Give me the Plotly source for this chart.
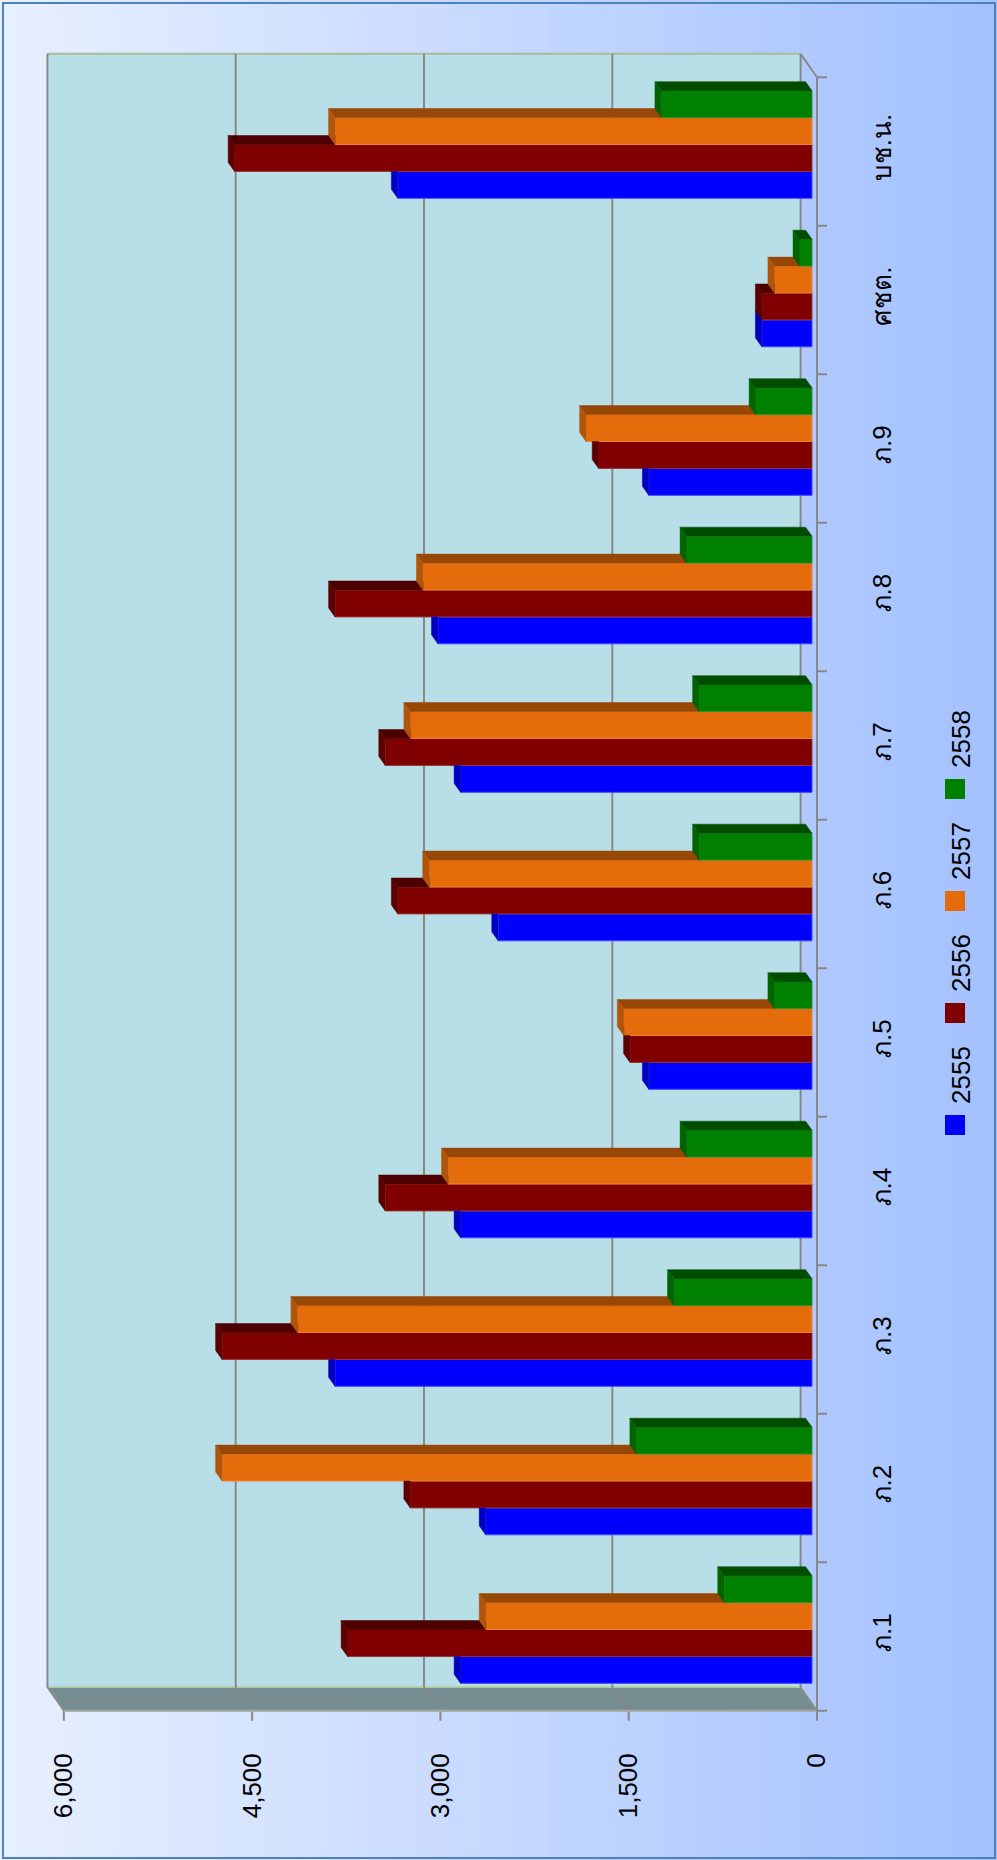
import plotly.graph_objects as go

# ---------------- data ----------------
categories = ["ภ.1", "ภ.2", "ภ.3", "ภ.4", "ภ.5", "ภ.6", "ภ.7", "ภ.8", "ภ.9", "ศชต.", "บช.น."]
series_names = ["2555", "2556", "2557", "2558"]
v2555 = [2800, 2600, 3800, 2800, 1300, 2500, 2800, 2980, 1300, 400, 3300]
v2556 = [3700, 3200, 4700, 3400, 1450, 3300, 3400, 3800, 1700, 400, 4600]
v2557 = [2600, 4700, 4100, 2900, 1500, 3050, 3200, 3100, 1800, 300, 3800]
v2558 = [700, 1400, 1100, 1000, 300, 900, 900, 1000, 450, 100, 1200]
value_ticks = [0, 1500, 3000, 4500, 6000]
value_tick_labels = ["0", "1,500", "3,000", "4,500", "6,000"]

series_values = [v2555, v2556, v2557, v2558]

# ---------------- style ----------------
front_colors = ["#0000FF", "#800000", "#E46C0A", "#008000"]
top_colors = ["#00007A", "#4D0000", "#974706", "#004D00"]
side_colors = ["#0000C0", "#5C0000", "#B0550A", "#006400"]
edge_colors = ["#4545FF", "#9A3333", "#EC8434", "#2A922A"]

FONT = 'Tahoma, Verdana, "Liberation Sans", "Noto Sans", "DejaVu Sans", sans-serif'
W, H = 997, 1860
# plot area in pixels
PL, PR, PT, PB = 40, 830, 45, 1725
# bar-plane mapping (pixels)
X0, PXV = 812.0, 0.12553        # screen x of value 0, pixels per unit
Y0, PXC = 1629.5, 148.5         # screen y of first category, pixels per category
GROUP_W = 0.7246                # fraction of slot used by the 4 bars
BW = GROUP_W / 4
DXV = 6.4 / PXV                 # bar depth (value units)
DYC = 9.0 / PXC                 # bar depth (category units)
BDV, BDC = 11.4 / PXV, 16.5 / PXC     # back wall shift
FDV, FDC = -5.0 / PXV, -7.0 / PXC     # front plane shift
VMAX = value_ticks[-1]
NC = len(categories)

x_range = [(X0 - PL) / PXV, (X0 - PR) / PXV]
y_range = [(Y0 - PB) / PXC, (Y0 - PT) / PXC]


def pxx(X):
    return (X - PL) / (PR - PL)


def pxy(Y):
    return (PB - Y) / (PB - PT)


def clip(poly, axis, thr, keep_ge):
    if not poly:
        return []
    def inside(p):
        return p[axis] >= thr if keep_ge else p[axis] <= thr
    out = []
    n = len(poly)
    for i in range(n):
        cur, prev = poly[i], poly[i - 1]
        ci, pi = inside(cur), inside(prev)
        if ci != pi:
            t = (thr - prev[axis]) / (cur[axis] - prev[axis])
            out.append((prev[0] + t * (cur[0] - prev[0]), prev[1] + t * (cur[1] - prev[1])))
        if ci:
            out.append(cur)
    return out


fig = go.Figure()

# front faces as real bars
for k, name in enumerate(series_names):
    fig.add_trace(go.Bar(
        y=list(range(NC)), x=series_values[k], orientation="h", name=name,
        marker=dict(color=front_colors[k], line=dict(color=edge_colors[k], width=1)),
        showlegend=False, hoverinfo="x+name",
    ))

# 3D faces (top and left end) derived from the same values
for k in range(4):
    tx, ty, sx, sy = [], [], [], []
    for i in range(NC):
        v = series_values[k][i]
        b = i - GROUP_W / 2 + k * BW
        t = b + BW
        top = [(0, t), (v, t), (v + DXV, t + DYC), (DXV, t + DYC)]
        side = [(v, b), (v, t), (v + DXV, t + DYC), (v + DXV, b + DYC)]
        if k < 3:
            vn = series_values[k + 1][i]
            tops = [clip(top, 0, vn, True)]
            sides = [clip(side, 1, t, False), clip(clip(side, 1, t, True), 0, vn, True)]
        else:
            tops = [top]
            sides = [side]
        for p in tops:
            if len(p) >= 3:
                tx += [q[0] for q in p] + [p[0][0], None]
                ty += [q[1] for q in p] + [p[0][1], None]
        for p in sides:
            if len(p) >= 3:
                sx += [q[0] for q in p] + [p[0][0], None]
                sy += [q[1] for q in p] + [p[0][1], None]
    fig.add_trace(go.Scatter(x=tx, y=ty, mode="lines", fill="toself", fillcolor=top_colors[k],
                             line=dict(color=top_colors[k], width=0.5), showlegend=False, hoverinfo="skip"))
    fig.add_trace(go.Scatter(x=sx, y=sy, mode="lines", fill="toself", fillcolor=side_colors[k],
                             line=dict(color=side_colors[k], width=0.5), showlegend=False, hoverinfo="skip"))

shapes = []
# background gradient
NSTRIP = 60
c0, c1 = (0xE8, 0xF0, 0xFF), (0xA3, 0xC1, 0xFF)
for s in range(NSTRIP):
    f = (s + 0.5) / NSTRIP
    col = "rgb(%d,%d,%d)" % tuple(round(c0[j] + (c1[j] - c0[j]) * f) for j in range(3))
    shapes.append(dict(type="rect", xref="paper", yref="paper", layer="below",
                       x0=pxx(W * s / NSTRIP), x1=pxx(W * (s + 1) / NSTRIP + 1), y0=pxy(H), y1=pxy(0),
                       fillcolor=col, line=dict(width=0)))
# outer border
shapes.append(dict(type="rect", xref="paper", yref="paper", layer="above",
                   x0=pxx(3), x1=pxx(995), y0=pxy(1858), y1=pxy(3),
                   fillcolor="rgba(0,0,0,0)", line=dict(color="#4F81BD", width=2)))

cb, ct = -0.5 + BDC, NC - 0.5 + BDC     # back wall category extent
fb = -0.5 + FDC                          # front bottom
# back wall
shapes.append(dict(type="rect", xref="x", yref="y", layer="below",
                   x0=BDV, x1=VMAX + BDV, y0=cb, y1=ct, fillcolor="#B8DFE8", line=dict(width=0)))
# side wall (gray strip)
shapes.append(dict(type="path", xref="x", yref="y", layer="below",
                   path="M %f,%f L %f,%f L %f,%f L %f,%f Z" % (BDV, cb, VMAX + BDV, cb, VMAX + FDV, fb, FDV, fb),
                   fillcolor="#758C90", line=dict(color="#B2C49E", width=1.5)))
# wall top edge
shapes.append(dict(type="line", xref="x", yref="y", layer="below",
                   x0=BDV, x1=VMAX + BDV, y0=ct, y1=ct, line=dict(color="#A9BC9A", width=2)))
# gridlines on back wall + side wall + ticks
for tv in value_ticks:
    shapes.append(dict(type="line", xref="x", yref="y", layer="below",
                       x0=tv + BDV, x1=tv + BDV, y0=cb, y1=ct, line=dict(color="#888888", width=2)))
    shapes.append(dict(type="line", xref="x", yref="y", layer="below",
                       x0=tv + BDV, x1=tv + FDV, y0=cb, y1=fb, line=dict(color="#888888", width=1.5)))
    shapes.append(dict(type="line", xref="x", yref="y", layer="below",
                       x0=tv + FDV, x1=tv + FDV, y0=fb, y1=fb - 10 / PXC, line=dict(color="#888888", width=2)))
# front bottom axis line
shapes.append(dict(type="line", xref="x", yref="y", layer="below",
                   x0=VMAX + FDV, x1=FDV, y0=fb, y1=fb, line=dict(color="#A0A8A0", width=2)))
# category axis (right)
shapes.append(dict(type="line", xref="x", yref="y", layer="below",
                   x0=FDV, x1=FDV, y0=fb, y1=NC - 0.5 + FDC, line=dict(color="#888888", width=2)))
shapes.append(dict(type="line", xref="x", yref="y", layer="below",
                   x0=BDV, x1=FDV, y0=ct, y1=NC - 0.5 + FDC, line=dict(color="#888888", width=2)))
for i in range(NC + 1):
    yy = i - 0.5 + FDC
    shapes.append(dict(type="line", xref="x", yref="y", layer="below",
                       x0=FDV, x1=FDV - 10 / PXV, y0=yy, y1=yy, line=dict(color="#888888", width=2)))

# legend (rotated) as swatches + annotations
annotations = []
LEG_X, LEG_Y0, LEG_STEP = 955, 1125, 112
for k, name in enumerate(series_names):
    yc = LEG_Y0 - k * LEG_STEP
    shapes.append(dict(type="rect", xref="paper", yref="paper", layer="above",
                       x0=pxx(LEG_X - 10), x1=pxx(LEG_X + 10), y0=pxy(yc + 10), y1=pxy(yc - 10),
                       fillcolor=front_colors[k], line=dict(width=0)))
    annotations.append(dict(xref="paper", yref="paper", x=pxx(LEG_X + 6), y=pxy(yc - 19),
                            xanchor="center", yanchor="bottom", text=name, textangle=-90,
                            showarrow=False, font=dict(family=FONT, size=26, color="black")))

fig.update_layout(
    width=W, height=H,
    margin=dict(l=PL, r=W - PR, t=PT, b=H - PB),
    paper_bgcolor="#C8DAFF", plot_bgcolor="rgba(0,0,0,0)",
    barmode="group", bargap=1 - GROUP_W, bargroupgap=0,
    showlegend=False,
    shapes=shapes, annotations=annotations,
    font=dict(family=FONT, size=26, color="black"),
    xaxis=dict(range=x_range, tickmode="array", tickvals=[tv + FDV for tv in value_ticks],
               ticktext=value_tick_labels, tickangle=-90, showgrid=False, zeroline=False,
               showline=False, ticks="", ticklabelstandoff=22, automargin=False,
               tickfont=dict(family=FONT, size=26, color="black")),
    yaxis=dict(range=y_range, side="right", tickmode="array", tickvals=[i + FDC for i in range(NC)],
               ticktext=categories, tickangle=-90, showgrid=False, zeroline=False,
               showline=False, ticks="", ticklabelstandoff=34, automargin=False,
               tickfont=dict(family=FONT, size=26, color="black")),
)

fig.write_html("out.html", config={"displayModeBar": False},
               post_script="document.body.style.margin='0';document.body.style.overflow='hidden';")
